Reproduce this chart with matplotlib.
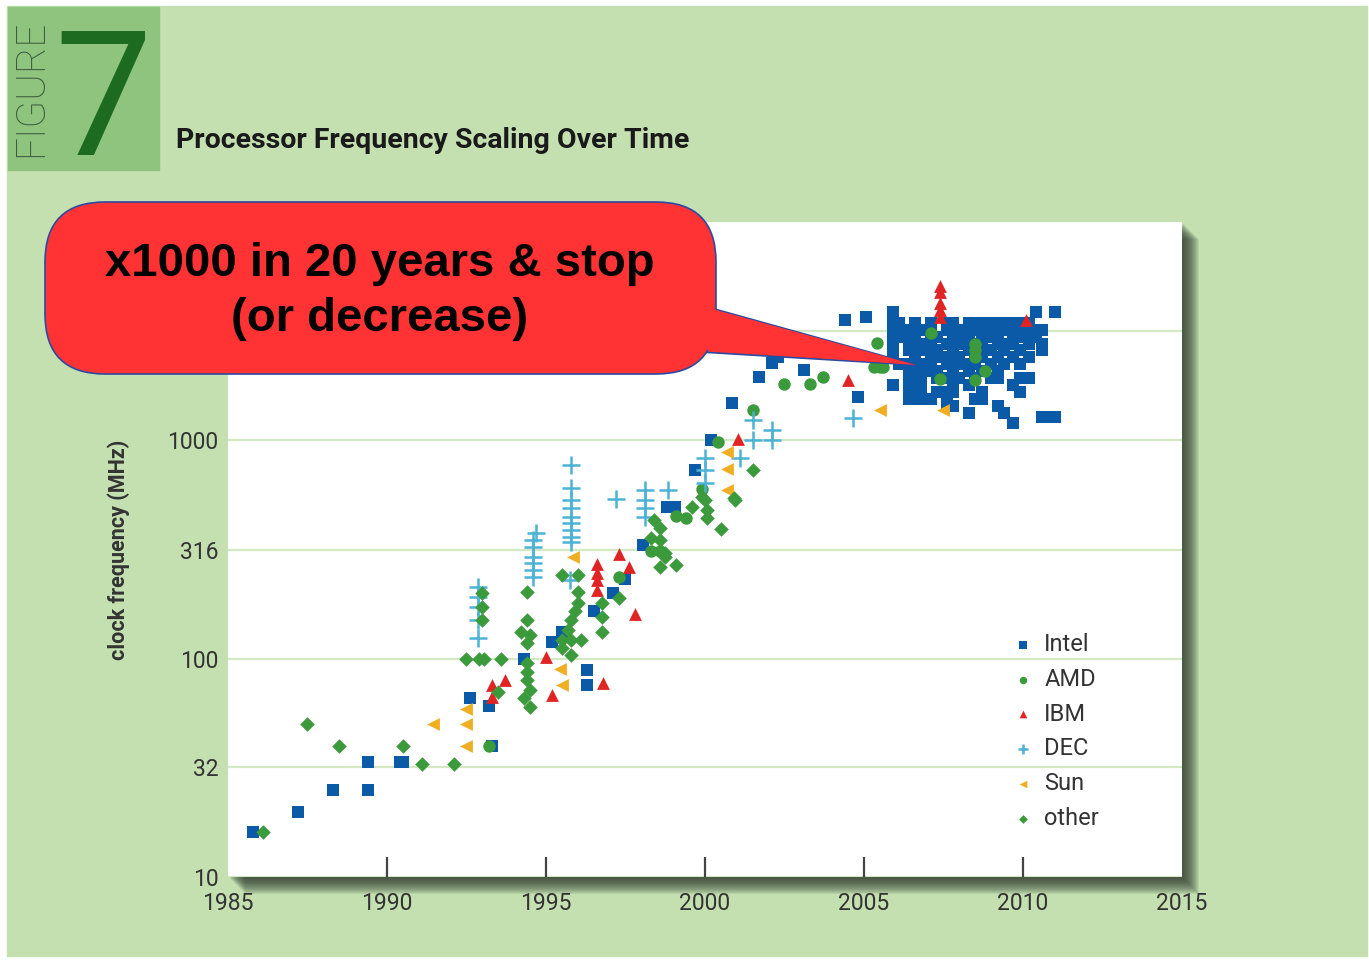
import matplotlib.pyplot as plt
from matplotlib.patches import Rectangle, FancyBboxPatch, Polygon

# ---- data (year, clock MHz) ----
intel_pts = [
    (1985.8, 16), (1987.2, 19.8), (1988.3, 25), (1989.4, 25), (1989.4, 33.6),
    (1990.4, 33.6), (1990.5, 33.6), (1992.6, 66), (1993.2, 61), (1993.3, 40),
    (1994.3, 100), (1995.2, 119), (1995.5, 132), (1996.3, 89), (1996.3, 76),
    (1996.5, 165), (1997.1, 199), (1997.5, 231), (1998.05, 330), (1998.8, 493),
    (1999.05, 493), (1999.7, 729), (2000.2, 1000), (2000.85, 1476), (2001.7, 1941),
    (2002.1, 2249), (2002.3, 2400), (2003.1, 2090), (2004.4, 3540), (2005.05, 3656),
    (2004.8, 1574),
    # the 2006-2011 cluster
    (2005.9, 3860), (2005.9, 3430), (2005.9, 3190), (2005.9, 2960), (2005.9, 2750),
    (2005.9, 2560), (2005.9, 2400), (2005.9, 1790),
    (2006.1, 3430), (2006.1, 3190), (2006.1, 2960), (2006.1, 2230),
    (2006.4, 3190), (2006.4, 2960), (2006.4, 2750), (2006.4, 2580), (2006.4, 2230),
    (2006.4, 2070), (2006.4, 1920), (2006.4, 1790), (2006.4, 1660), (2006.4, 1540),
    (2006.6, 3430), (2006.6, 2960), (2006.6, 2750), (2006.6, 2400), (2006.6, 2230),
    (2006.6, 2070), (2006.6, 1920), (2006.6, 1790), (2006.6, 1660), (2006.6, 1540),
    (2006.8, 3190), (2006.8, 2750), (2006.8, 2580), (2006.8, 2230), (2006.8, 2070),
    (2006.8, 1920), (2006.8, 1790), (2006.8, 1660), (2006.8, 1540),
    (2007.1, 3430), (2007.1, 3190), (2007.1, 2960), (2007.1, 2750), (2007.1, 2580),
    (2007.1, 2400), (2007.1, 2230), (2007.1, 2070), (2007.1, 1540),
    (2007.3, 2960), (2007.3, 2580), (2007.3, 2400), (2007.3, 2070), (2007.3, 1920),
    (2007.3, 1660),
    (2007.6, 3430), (2007.6, 3190), (2007.6, 2750), (2007.6, 2400), (2007.6, 2230),
    (2007.6, 1920), (2007.6, 1660), (2007.6, 1540), (2007.6, 1430),
    (2007.8, 3430), (2007.8, 3190), (2007.8, 2960), (2007.8, 2580), (2007.8, 2230),
    (2007.8, 2070), (2007.8, 1790), (2007.8, 1660), (2007.8, 1430),
    (2008.0, 3190), (2008.0, 2960), (2008.0, 2750), (2008.0, 2400), (2008.0, 2230),
    (2008.0, 1920),
    (2008.3, 3430), (2008.3, 3190), (2008.3, 2960), (2008.3, 2750), (2008.3, 2580),
    (2008.3, 2230), (2008.3, 2070), (2008.3, 1790), (2008.3, 1330),
    (2008.5, 3430), (2008.5, 3190), (2008.5, 2750), (2008.5, 2400), (2008.5, 2230),
    (2008.5, 1920), (2008.5, 1540),
    (2008.7, 3430), (2008.7, 3190), (2008.7, 2960), (2008.7, 2750), (2008.7, 2580),
    (2008.7, 2400), (2008.7, 2070), (2008.7, 1660), (2008.7, 1540),
    (2009.0, 3430), (2009.0, 3190), (2009.0, 2960), (2009.0, 2580), (2009.0, 2230),
    (2009.0, 1920),
    (2009.2, 3430), (2009.2, 3190), (2009.2, 2960), (2009.2, 2750), (2009.2, 2400),
    (2009.2, 2070), (2009.2, 1920), (2009.2, 1430),
    (2009.4, 3430), (2009.4, 3190), (2009.4, 2750), (2009.4, 2580), (2009.4, 2230),
    (2009.4, 1330),
    (2009.7, 3430), (2009.7, 3190), (2009.7, 2960), (2009.7, 2750), (2009.7, 2400),
    (2009.7, 1790), (2009.7, 1200),
    (2009.9, 3430), (2009.9, 3190), (2009.9, 2960), (2009.9, 2580), (2009.9, 2230),
    (2009.9, 1920), (2009.9, 1660),
    (2010.2, 3430), (2010.2, 3190), (2010.2, 2960), (2010.2, 2750), (2010.2, 2400),
    (2010.2, 1920),
    (2010.4, 3860), (2010.4, 3190), (2010.4, 2960),
    (2010.6, 3190), (2010.6, 2750), (2010.6, 2580), (2010.6, 1280),
    (2010.85, 1280), (2011.0, 3860), (2011.0, 1280),
]

amd_pts = [
    (1993.2, 40), (1997.3, 236), (1998.3, 310), (1998.6, 310), (1999.1, 450),
    (1999.4, 440), (1999.9, 600), (2000.4, 980), (2001.5, 1370), (2002.5, 1820),
    (2003.3, 1820), (2003.7, 1950), (2005.3, 2160), (2005.5, 2160), (2005.6, 2160),
    (2005.4, 2780), (2007.1, 3090), (2007.4, 1900), (2008.5, 1880), (2008.8, 2070),
    (2008.5, 2750), (2008.5, 2580), (2008.5, 2400),
]

ibm_pts = [
    (1993.3, 75.6), (1993.3, 67), (1993.7, 80), (1995.0, 102), (1995.2, 68),
    (1996.6, 270), (1996.6, 247), (1996.6, 229), (1996.6, 206), (1997.3, 303),
    (1997.6, 264), (1997.8, 161), (1996.8, 77), (2001.05, 1010), (2004.5, 1880),
    (2007.4, 5117), (2007.4, 4755), (2007.4, 4235), (2007.4, 3935), (2007.4, 3656),
    (2010.1, 3540),
]

dec_pts = [
    (1992.86, 212), (1992.86, 191), (1992.86, 172), (1992.86, 150), (1992.86, 125),
    (1994.6, 348), (1994.6, 324), (1994.6, 292), (1994.6, 273), (1994.6, 254),
    (1994.6, 236), (1994.7, 375), (1995.75, 229),
    (1995.8, 769), (1995.8, 603), (1995.8, 531), (1995.8, 488), (1995.8, 444),
    (1995.8, 417), (1995.8, 387), (1995.8, 360), (1995.8, 341),
    (1997.2, 537), (1998.1, 590), (1998.1, 531), (1998.1, 490), (1998.1, 444),
    (1998.85, 590), (2000.0, 832), (2000.0, 729), (2000.0, 638), (2001.1, 832),
    (2001.5, 1235), (2001.5, 1000), (2002.1, 1110), (2002.1, 1000), (2004.65, 1270),
]

sun_pts = [
    (1991.45, 50), (1992.5, 58.7), (1992.5, 50), (1992.5, 40), (1995.85, 292),
    (1995.45, 90), (1995.5, 75.6), (2000.7, 880), (2000.7, 743), (2000.7, 590),
    (2005.5, 1370), (2007.5, 1370),
]

other_pts = [
    (1986.1, 16), (1987.5, 50), (1988.5, 40), (1990.5, 40), (1991.1, 33),
    (1992.1, 33), (1992.5, 100), (1992.9, 100), (1993.05, 100), (1993.6, 100),
    (1993.0, 200), (1993.0, 173), (1993.0, 150), (1993.5, 70),
    (1994.4, 202), (1994.4, 150), (1994.2, 132), (1994.5, 128), (1994.4, 118),
    (1994.4, 96), (1994.4, 87), (1994.4, 80), (1994.5, 72), (1994.3, 66), (1994.5, 60),
    (1995.5, 242), (1996.0, 242), (1996.0, 202), (1996.0, 180), (1995.9, 165),
    (1995.8, 150), (1995.7, 136), (1995.5, 122), (1995.8, 122), (1996.1, 122),
    (1995.8, 104), (1995.5, 112), (1996.75, 180), (1996.75, 155), (1996.75, 132),
    (1997.3, 189), (1998.3, 356), (1998.6, 395), (1998.6, 349), (1998.4, 430),
    (1998.75, 292), (1999.1, 268), (1998.6, 262), (1998.75, 304), (1999.6, 493),
    (2000.05, 440), (2000.05, 478), (1999.9, 548), (2000.0, 531), (2000.5, 392),
    (2001.5, 729), (2000.9, 543), (2000.95, 531),
]

series = [
    ("Intel", intel_pts, "s", "#0b5aa8", 78),
    ("AMD", amd_pts, "o", "#3b9a3b", 80),
    ("IBM", ibm_pts, "^", "#e02424", 85),
    ("DEC", dec_pts, "+", "#4db3d6", 160),
    ("Sun", sun_pts, "<", "#f0ae22", 85),
    ("other", other_pts, "D", "#3b9a3b", 55),
]

ytick_vals = [10, 32, 100, 316, 1000, 3162]
xtick_vals = [1985, 1990, 1995, 2000, 2005, 2010, 2015]

narrow = ["Roboto", "DejaVu Sans"]

fig = plt.figure(figsize=(13.69, 9.61), dpi=100)
fig.patch.set_facecolor("white")

# background layer in pixel coordinates
bg = fig.add_axes([0, 0, 1, 1], zorder=0)
bg.set_xlim(0, 1369)
bg.set_ylim(961, 0)
bg.axis("off")
bg.add_patch(Rectangle((7, 6), 1360, 950, color="#c4e0b0"))
bg.add_patch(Rectangle((8, 7), 151, 163, color="#8ec47e"))
# drop shadow behind the plot box
for k in range(2, 18):
    bg.add_patch(Rectangle((228 + k, 222 + k), 954, 655, color="#2e3a2e",
                           alpha=0.09, lw=0))

bg.text(31, 88, "FIGURE", rotation=90, ha="center", va="center",
        fontsize=29, color="#3d5e3d", family=narrow, fontweight="light")
bg.text(103, 155, "7", ha="center", va="baseline", fontsize=125,
        color="#1c6b20", family=narrow)
bg.text(176, 140, "Processor Frequency Scaling Over Time", ha="left", va="center",
        fontsize=20.5, fontweight="bold", color="#1a1a1a", family=narrow)

# main plot
ax = fig.add_axes([228 / 1369, 1 - 877 / 961, 954 / 1369, 655 / 961], zorder=1)
ax.set_facecolor("white")
for s in ax.spines.values():
    s.set_visible(False)
ax.set_yscale("log")
ax.set_xlim(1985, 2015)
ax.set_ylim(10, 10000)
ax.set_yticks(ytick_vals)
ax.set_yticklabels([str(v) for v in ytick_vals])
ax.yaxis.set_minor_locator(plt.NullLocator())
ax.set_xticks(xtick_vals)
ax.set_xticklabels([str(v) for v in xtick_vals])
ax.tick_params(axis="both", length=0, labelsize=16.5, labelcolor="#333333")
ax.tick_params(axis="x", pad=11)
ax.tick_params(axis="y", pad=7)
for lab in ax.get_xticklabels() + ax.get_yticklabels():
    lab.set_family(narrow)
ax.grid(axis="y", color="#d3e9c4", lw=1.6)
ax.set_axisbelow(True)
ax.vlines([1990, 1995, 2000, 2005, 2010], 0, 0.03, transform=ax.get_xaxis_transform(),
          color="#444444", lw=1.6)

for name, pts, mk, col, sz in series:
    xs = [p[0] for p in pts]
    ys = [p[1] for p in pts]
    if mk == "+":
        ax.scatter(xs, ys, marker=mk, s=sz, color=col, linewidths=1.8, label=name, zorder=3)
    else:
        ax.scatter(xs, ys, marker=mk, s=sz, color=col, linewidths=0, label=name, zorder=3)

ax.set_ylabel("clock frequency (MHz)", fontsize=15.5, fontweight="bold",
              color="#333333", family=narrow)
ax.yaxis.set_label_coords(-0.103, 0.5)

leg = ax.legend(loc="upper left", bbox_to_anchor=(0.80, 0.405), frameon=False,
                labelspacing=0.5, handlelength=0.9, handletextpad=0.45,
                markerscale=0.6, prop={"family": narrow, "size": 17})
for t in leg.get_texts():
    t.set_color("#333333")

# callout layer
fg = fig.add_axes([0, 0, 1, 1], zorder=2)
fg.set_xlim(0, 1369)
fg.set_ylim(961, 0)
fg.axis("off")
fg.patch.set_alpha(0)
wedge = [(700, 305), (916, 365), (700, 352)]
fg.add_patch(Polygon(wedge, closed=True, facecolor="#ff3333", edgecolor="#2b4aa3", lw=1.2))
fg.add_patch(FancyBboxPatch((45, 202), 671, 172,
                            boxstyle="round,pad=0,rounding_size=60",
                            facecolor="#ff3333", edgecolor="#2b4aa3", lw=1.2))
fg.add_patch(Polygon([(705, 307), (916, 365), (705, 350)], closed=True,
                     facecolor="#ff3333", edgecolor="none"))
fg.text(380, 264, "x1000 in 20 years & stop", ha="center", va="center",
        fontsize=34, fontweight="bold", family=["Liberation Sans", "DejaVu Sans"])
fg.text(380, 319, "(or decrease)", ha="center", va="center",
        fontsize=34, fontweight="bold", family=["Liberation Sans", "DejaVu Sans"])

fig.savefig("out.png", dpi=100)
